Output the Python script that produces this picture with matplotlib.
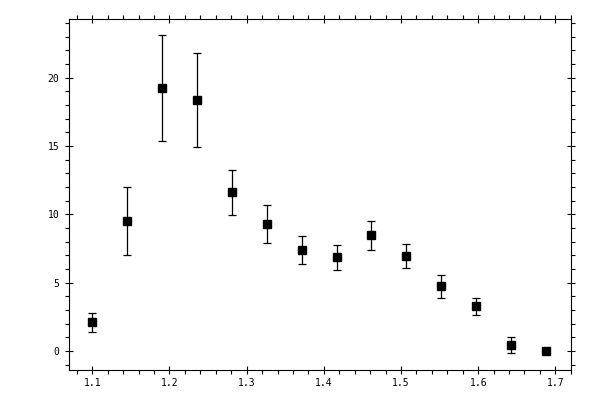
import matplotlib
matplotlib.use('Agg')
from matplotlib import pyplot as plt
from matplotlib.ticker import MultipleLocator

xs = [1.100, 1.1454, 1.1907, 1.2361, 1.2814, 1.3268, 1.3721,
      1.4167, 1.4615, 1.5069, 1.5522, 1.5976, 1.6430, 1.6883]
ys = [2.10, 9.50, 19.24, 18.36, 11.62, 9.28, 7.38,
      6.86, 8.47, 6.94, 4.74, 3.27, 0.42, 0.0]
errs = [0.70, 2.50, 3.90, 3.45, 1.65, 1.37, 1.02,
        0.92, 1.06, 0.88, 0.85, 0.62, 0.59, 0.0]

fig = plt.figure(figsize=(6, 4), dpi=100)
ax = fig.add_axes([0.115, 0.075, 0.8367, 0.8775])

ax.errorbar(xs, ys, yerr=errs, fmt='s', color='black', markersize=5.5,
            elinewidth=0.9, capsize=3, capthick=0.9)

ax.set_xlim(1.0698, 1.7203)
ax.set_ylim(-1.39, 24.3)
ax.xaxis.set_major_locator(MultipleLocator(0.1))
ax.xaxis.set_minor_locator(MultipleLocator(0.02))
ax.yaxis.set_major_locator(MultipleLocator(5))
ax.yaxis.set_minor_locator(MultipleLocator(1))

ax.tick_params(which='major', direction='inout', length=6, width=0.8,
               top=True, right=True, labelsize=7, pad=4)
ax.tick_params(axis='x', which='major', pad=2.5)
ax.tick_params(which='minor', direction='out', length=2.6, width=0.8,
               top=True, right=True)
for lab in ax.get_xticklabels() + ax.get_yticklabels():
    lab.set_family('DejaVu Sans Mono')
for s in ax.spines.values():
    s.set_linewidth(0.8)

fig.savefig('out.png', dpi=100)
